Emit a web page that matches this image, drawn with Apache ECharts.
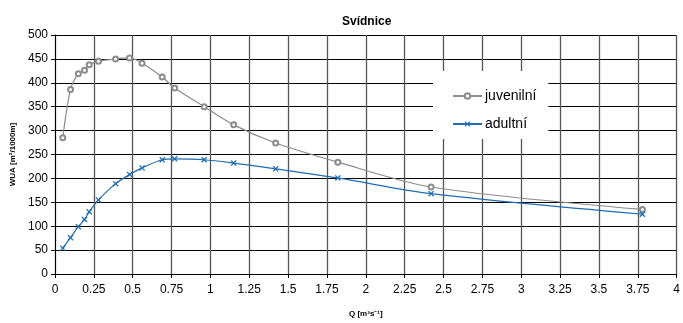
<!DOCTYPE html>
<html><head><meta charset="utf-8">
<script src="https://cdn.jsdelivr.net/npm/echarts@6/dist/echarts.min.js"></script>
<style>html,body{margin:0;padding:0;background:#fff}#c{width:683px;height:323px}</style>
</head><body><div id="c"></div>
<script>
const Q = [0.05, 0.10, 0.15, 0.19, 0.22, 0.28, 0.39, 0.48, 0.56, 0.69, 0.77, 0.96, 1.15, 1.42, 1.82, 2.42, 3.78];
const juvenilni = [285, 386, 419, 426, 438, 445, 450, 452, 441, 412, 389, 350, 312, 274, 234, 182, 135];
const adultni = [54, 76, 99, 114, 130, 155, 189, 208, 222, 239, 241, 239, 232, 220, 201, 168, 125];
const xTicks = [0, 0.25, 0.5, 0.75, 1, 1.25, 1.5, 1.75, 2, 2.25, 2.5, 2.75, 3, 3.25, 3.5, 3.75, 4];
const yTicks = [0, 50, 100, 150, 200, 250, 300, 350, 400, 450, 500];

const pair = (xs, ys) => xs.map((x, i) => [x, ys[i]]);
const crossPath = 'path://M0,1.5L1.5,0L5,3.5L8.5,0L10,1.5L6.5,5L10,8.5L8.5,10L5,6.5L1.5,10L0,8.5L3.5,5Z';
const font = 'Liberation Sans, Arial, sans-serif';

const chart = echarts.init(document.getElementById('c'), null, {renderer: 'canvas'});
chart.setOption({
  animation: false,
  backgroundColor: '#fff',
  textStyle: {fontFamily: font},
  title: {
    text: 'Svídnice', left: 337, top: 11,
    textStyle: {fontSize: 12, fontWeight: 'bold', color: '#000', fontFamily: font}
  },
  grid: {left: 55, right: 3, top: 35, bottom: 46, containLabel: false},
  legend: {
    orient: 'vertical', left: 433, top: 71,
    backgroundColor: '#fff',
    padding: [18, 12, 8, 19],
    itemGap: 14, itemWidth: 29, itemHeight: 7,
    textStyle: {fontSize: 14, color: '#000', fontFamily: font, padding: [0, 0, 0, -2]},
    data: ['juvenilní', 'adultní'],
    z: 10
  },
  xAxis: {
    type: 'value', min: 0, max: 4, interval: 0.25,
    name: 'Q [m³s⁻¹]', nameLocation: 'middle', nameGap: 36,
    nameTextStyle: {fontSize: 8, fontWeight: 'bold', color: '#000', fontFamily: font},
    axisLine: {show: true, lineStyle: {color: '#000', width: 1}},
    axisTick: {show: true, length: 4, lineStyle: {color: '#000'}},
    axisLabel: {fontSize: 12, color: '#000', margin: 10, fontFamily: font,
      formatter: v => xTicks.includes(v) ? String(v) : ''},
    splitLine: {show: true, lineStyle: {color: '#555', width: 1.3}}
  },
  yAxis: {
    type: 'value', min: 0, max: 500, interval: 50,
    name: 'WUA [m²/1000m]', nameLocation: 'middle', nameGap: 36,
    nameTextStyle: {fontSize: 8, fontWeight: 'bold', color: '#000', fontFamily: font},
    axisLine: {show: true, lineStyle: {color: '#000', width: 1}},
    axisTick: {show: true, length: 4, lineStyle: {color: '#000'}},
    axisLabel: {fontSize: 12, color: '#000', margin: 7, fontFamily: font,
      formatter: v => yTicks.includes(v) ? String(v) : ''},
    splitLine: {show: true, lineStyle: {color: '#000', width: 1}}
  },
  series: [
    {
      name: 'juvenilní', type: 'line', smooth: 0.3,
      data: pair(Q, juvenilni),
      symbol: 'emptyCircle', symbolSize: 5,
      lineStyle: {color: '#8c8c8c', width: 1.2},
      itemStyle: {color: '#8c8c8c', borderColor: '#8c8c8c', borderWidth: 1},
      z: 3
    },
    {
      name: 'adultní', type: 'line', smooth: 0.3,
      data: pair(Q, adultni),
      symbol: crossPath, symbolSize: 6,
      lineStyle: {color: '#1f6db2', width: 1.2},
      itemStyle: {color: '#1f6db2'},
      z: 3
    }
  ]
});
</script></body></html>
